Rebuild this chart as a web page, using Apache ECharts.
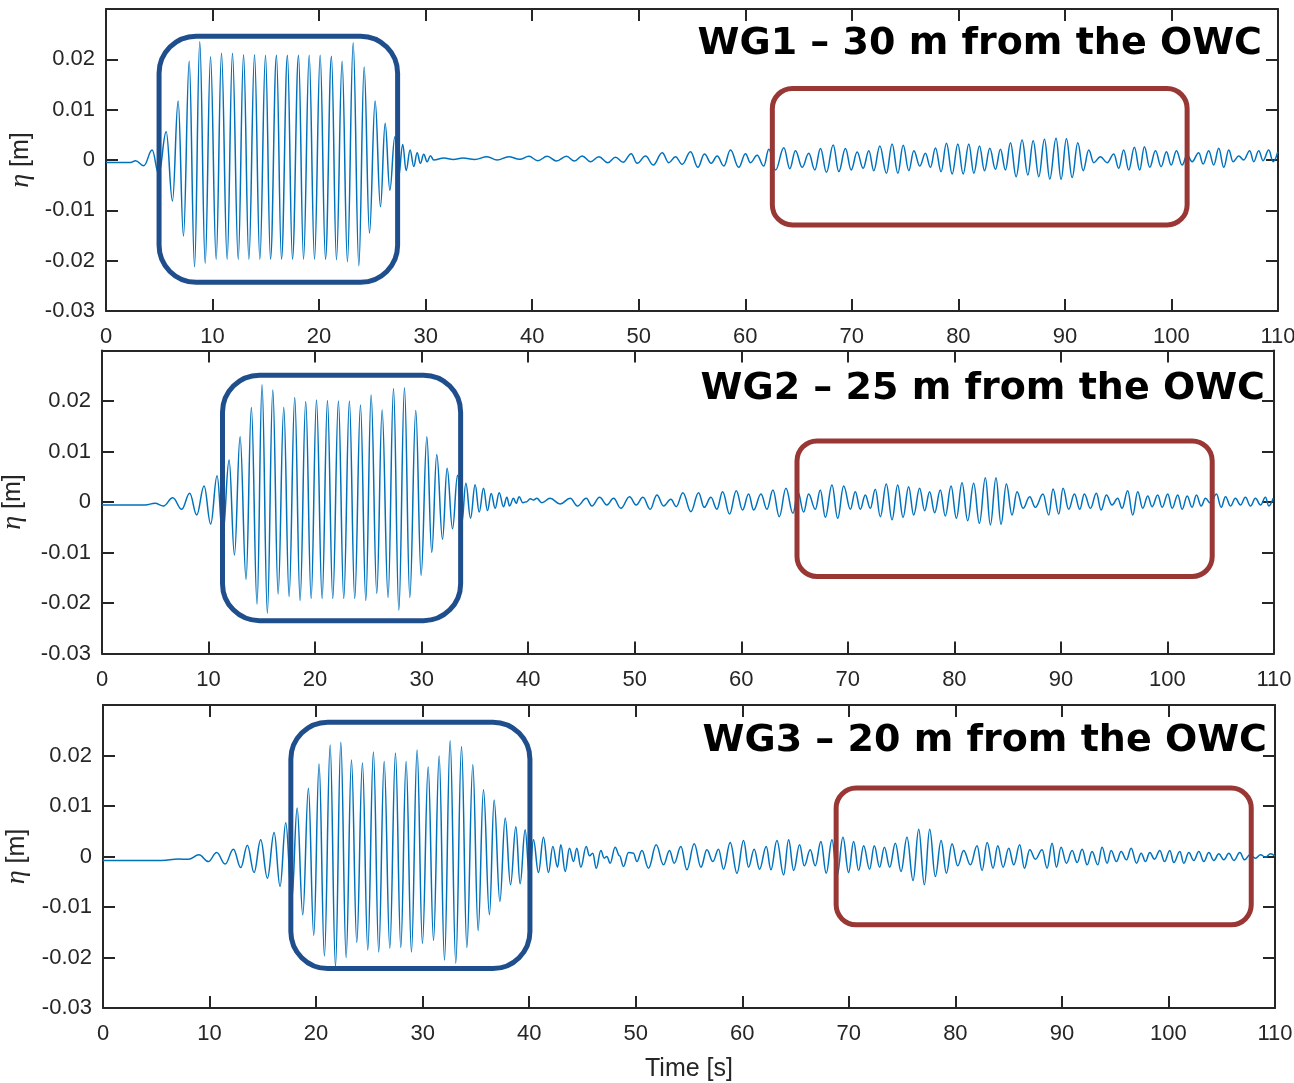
<!DOCTYPE html>
<html>
<head>
<meta charset="utf-8">
<script src="https://cdn.jsdelivr.net/npm/echarts@6/dist/echarts.min.js"></script>
<style>
  html, body { margin: 0; padding: 0; background: #ffffff; }
  #chart { width: 1294px; height: 1083px; }
</style>
</head>
<body>
<div id="chart"></div>
<script>
// Panel headings
const gaugeTitles = ['WG1 – 30 m from the OWC', 'WG2 – 25 m from the OWC', 'WG3 – 20 m from the OWC'];

// Free-surface elevation records: [time s, eta m] at successive crests / troughs
const wg1Elevation = [
  [0,-0.0005],[2.3,-0.0005],[2.77,-0.00013],[3.55,-0.00113],[4.33,0.00198],[4.95,-0.0028],[5.65,0.0056],[6.24,-0.00813],
  [6.77,0.0117],[7.27,-0.0151],[7.81,0.0196],[8.31,-0.0212],[8.8,0.0235],[9.31,-0.0205],[9.81,0.0205],[10.34,-0.0197],
  [10.84,0.0212],[11.37,-0.0197],[11.87,0.0212],[12.41,-0.0197],[12.91,0.0209],[13.41,-0.0197],[13.94,0.0209],[14.44,-0.0197],
  [14.97,0.0208],[15.44,-0.0197],[16.0,0.0208],[16.47,-0.0197],[17.03,0.0208],[17.5,-0.0197],[18.07,0.0208],[18.54,-0.0197],
  [19.07,0.0208],[19.57,-0.0197],[20.1,0.0208],[20.6,-0.0197],[21.16,0.0206],[21.63,-0.0198],[22.16,0.0196],[22.66,-0.0202],
  [23.2,0.0233],[23.73,-0.021],[24.23,0.0185],[24.73,-0.0145],[25.26,0.0117],[25.76,-0.0093],[26.2,0.0073],[26.64,-0.006],
  [27.11,0.0046],[27.45,-0.0035],[27.85,0.0031],[28.17,-0.0021],[28.54,0.002],[28.89,-0.0013],[29.2,0.00145],[29.51,-0.00066],
  [29.82,0.00112],[30.14,-0.00033],[30.45,0.00086],[30.76,0],[31.7,0.0004],[32.6,0.0001],[33.5,0.0004],[34.6,0.0001],
  [35.77,0.00066],[36.71,0],[37.8,0.00066],[38.83,0.00013],
  [39.69,0.00073],[40.53,-0.00013],[41.41,0.00073],[42.28,-0.0002],[43.22,0.00073],[43.97,-0.0002],[44.69,0.00079],[45.47,-0.00033],
  [46.26,0.00066],[47.1,-0.00053],[47.82,0.00053],[48.54,-0.00046],[49.29,0.00126],[49.85,-0.00066],[50.64,0.00079],[51.36,-0.001],
  [52.2,0.00146],[52.83,-0.00053],[53.45,0.00066],[54.08,-0.00086],[54.86,0.00165],[55.55,-0.00146],[56.17,0.00119],[56.8,-0.00066],
  [57.36,0.00079],[57.99,-0.00119],[58.61,0.00198],[59.39,-0.00146],[60.02,0.00126],[60.49,-0.00053],[61.11,0.00093],[61.74,-0.00119],
  [62.21,0.00212],[62.84,-0.00198],[63.62,0.00245],[64.18,-0.00172],[64.71,0.00185],[65.34,-0.00146],[65.96,0.00132],[66.53,-0.00198],
  [67.06,0.0023],[67.62,-0.00245],[68.25,0.00298],[68.78,-0.0023],[69.4,0.0023],[69.94,-0.00198],[70.5,0.00159],[71.06,-0.00165],
  [71.6,0.00185],[72.06,-0.00212],[72.63,0.00278],
  [73.25,-0.00265],[73.78,0.00317],[74.32,-0.00265],[74.82,0.00291],[75.35,-0.00212],[75.82,0.00185],[76.38,-0.00119],[76.91,0.00132],
  [77.38,-0.00146],[77.85,0.00238],[78.38,-0.00232],[78.88,0.00331],[79.42,-0.00278],[79.95,0.00317],[80.45,-0.00278],[80.98,0.00317],
  [81.45,-0.00265],[81.98,0.00278],[82.45,-0.00212],[82.95,0.00231],[83.48,-0.00185],[83.95,0.00212],[84.42,-0.00198],[84.89,0.00344],
  [85.42,-0.00331],[85.98,0.00397],[86.52,-0.00298],[87.02,0.00384],[87.55,-0.00331],[88.08,0.0041],[88.58,-0.00377],[89.17,0.0043],
  [89.64,-0.00384],[90.14,0.00423],[90.68,-0.0035],[91.21,0.00344],[91.71,-0.00212],[92.24,0.00198],[92.71,-0.00053],[93.33,0.00066],
  [93.96,-0.00053],[94.59,0.00119],[95.05,-0.00165],[95.52,0.00198],[95.99,-0.00198],[96.52,0.00251],[97.02,-0.00198],[97.46,0.00265],
  [97.96,-0.00146],[98.5,0.00185],[99.03,-0.00132],[99.53,0.00165],[99.97,-0.00099],[100.47,0.00185],[101.0,-0.00099],[101.47,0.00099],
  [101.94,-0.00033],[102.56,0.00146],[102.97,-0.00079],[103.5,0.00185],[103.97,-0.00099],[104.44,0.00231],[104.91,-0.00146],[105.38,0.00198],
  [105.78,-0.00033],[106.32,0.00079],[106.78,0],[107.35,0.00185],[107.72,-0.00033],[108.19,0.00185],[108.6,-0.00013],[109.13,0.00198],
  [109.54,-0.00033],[109.98,0.00165]
];

const wg2Elevation = [
  [0,-0.00059],[4.04,-0.00059],[4.98,-0.00026],[5.76,-0.00079],[6.64,0.00086],[7.48,-0.00145],[8.23,0.00172],[8.89,-0.00257],
  [9.58,0.00317],[10.2,-0.00436],[10.8,0.00521],[11.33,-0.0068],[11.93,0.0083],[12.43,-0.0105],[12.96,0.0129],[13.52,-0.0153],
  [14.02,0.0187],[14.55,-0.0202],[15.02,0.0232],[15.52,-0.022],[16.03,0.0222],[16.53,-0.0182],[17.06,0.0187],[17.56,-0.0187],
  [18.09,0.0207],[18.59,-0.0195],[19.12,0.0199],[19.63,-0.0191],[20.13,0.0202],[20.66,-0.0191],[21.16,0.0201],[21.66,-0.0191],
  [22.19,0.02],[22.69,-0.0191],[23.22,0.02],[23.72,-0.0191],[24.26,0.0192],[24.76,-0.0195],[25.26,0.0212],[25.79,-0.0181],
  [26.29,0.0182],[26.85,-0.0189],[27.36,0.0225],[27.86,-0.0214],[28.39,0.0226],[28.89,-0.0189],[29.45,0.0181],[29.95,-0.0145],
  [30.49,0.0129],[30.95,-0.01],[31.42,0.0094],[31.96,-0.0074],[32.39,0.0067],[32.9,-0.0053],[33.37,0.0053],[33.77,-0.0042],
  [34.15,0.0037],[34.59,-0.0032],[35.02,0.0034],[35.4,-0.002],[35.81,0.0027],[36.18,-0.0017],[36.53,0.0017],[36.9,-0.00125],
  [37.28,0.00185],[37.68,-0.00092],
  [38.0,0.00092],[38.25,-0.00079],[38.62,0.00073],[38.87,-0.00026],[39.15,0.00106],[39.5,-0.00013],[39.87,0.00007],[40.19,0.00066],
  [40.5,0.0004],[40.81,0.00073],[41.28,-0.00013],[42.06,0.00073],[43.0,-0.0004],[43.94,0.00073],[44.63,-0.00079],[45.45,0.00073],
  [45.98,-0.00079],[46.7,0.00092],[47.39,-0.00059],[48.01,0.00073],[48.7,-0.00125],[49.51,0.00106],[50.14,-0.00059],[50.77,0.00092],
  [51.45,-0.00145],[52.08,0.00139],[52.71,-0.00079],[53.39,0.00053],[53.9,-0.00092],[54.52,0.00185],[55.27,-0.00191],[55.99,0.00185],
  [56.52,-0.00106],[57.15,0.00092],[57.71,-0.00145],[58.25,0.00205],[58.9,-0.00238],[59.53,0.00224],[60.12,-0.00158],[60.69,0.00158],
  [61.16,-0.00158],[61.85,0.00158],[62.41,-0.00145],[62.97,0.00238],[63.57,-0.0029],[64.19,0.00271],[64.85,-0.00224],[65.32,0.002],
  [65.85,-0.002],[66.32,0.00158],[66.95,-0.00145],[67.42,0.00238],[67.89,-0.00304],[68.51,0.00337],[69.05,-0.00323],[69.61,0.00317],
  [70.24,-0.00145],[70.7,0.00205],[71.17,-0.00145],[71.64,0.00139],[72.11,-0.00125],[72.58,0.00251],
  [73.05,-0.0029],[73.61,0.00356],[74.15,-0.0035],[74.68,0.00337],[75.18,-0.00304],[75.71,0.00304],[76.18,-0.00257],[76.74,0.00271],
  [77.21,-0.00172],[77.68,0.00205],[78.15,-0.00211],[78.68,0.00238],[79.15,-0.00277],[79.69,0.00317],[80.19,-0.00323],[80.72,0.00383],
  [81.25,-0.0037],[81.81,0.0037],[82.35,-0.00422],[82.91,0.00482],[83.38,-0.00455],[83.91,0.00482],[84.38,-0.00442],[84.88,0.00356],
  [85.41,-0.00257],[85.88,0.00205],[86.45,-0.00125],[87.07,0.00106],[87.6,-0.00106],[88.32,0.00158],[88.86,-0.00257],[89.26,0.00257],
  [89.8,-0.00238],[90.2,0.00271],[90.73,-0.00145],[91.27,0.00158],[91.77,-0.00145],[92.2,0.00158],[92.77,-0.00125],[93.33,0.00172],
  [93.77,-0.00158],[94.27,0.00139],[94.8,-0.00059],[95.33,0.00073],[95.74,-0.00125],[96.27,0.00224],[96.74,-0.00257],[97.21,0.00205],
  [97.68,-0.00125],[98.15,0.00119],[98.56,-0.00092],[99.09,0.00139],[99.5,-0.00106],[100.03,0.00158],[100.44,-0.00125],[100.97,0.00139],
  [101.38,-0.00145],[101.85,0.00119],[102.31,-0.00106],[102.72,0.00139],[103.16,-0.00079],[103.57,0.00073],[104.04,-0.00026],[104.6,0.00158],
  [105.04,-0.00106],[105.45,0.00106],[105.91,-0.00079],[106.38,0.00073],[106.85,-0.00059],[107.32,0.00092],[107.79,-0.00079],[108.26,0.00073],
  [108.73,-0.00059],[109.2,0.00092],[109.51,-0.00079],[109.92,0.00073]
];

const wg3Elevation = [
  [0,-0.0008],[5.5,-0.0008],[7.07,-0.0005],[8.01,-0.00055],[9.01,0.00033],[9.89,-0.001],[10.67,0.0008],[11.46,-0.0015],
  [12.24,0.00145],[12.93,-0.0022],[13.55,0.00224],[14.18,-0.00317],[14.8,0.0033],[15.43,-0.0043],[16.06,0.00475],[16.62,-0.00594],
  [17.15,0.0067],[17.72,-0.0086],[18.22,0.0096],[18.75,-0.01155],[19.28,0.0135],[19.78,-0.0156],[20.28,0.0183],[20.78,-0.0197],
  [21.32,0.0221],[21.82,-0.0218],[22.32,0.0226],[22.82,-0.02],[23.32,0.0191],[23.82,-0.017],[24.35,0.0185],[24.85,-0.0185],
  [25.38,0.0207],[25.88,-0.0189],[26.39,0.0188],[26.92,-0.01815],[27.45,0.0205],[27.95,-0.018],[28.45,0.0188],[28.95,-0.0189],
  [29.48,0.0211],[29.98,-0.0172],[30.52,0.0177],[31.02,-0.0166],[31.55,0.0199],[32.05,-0.0205],[32.58,0.0229],[33.11,-0.0211],
  [33.65,0.0218],[34.15,-0.018],[34.71,0.01815],[35.21,-0.01465],[35.71,0.0132],[36.27,-0.01155],[36.71,0.0112],[37.25,-0.0089],
  [37.75,0.0076],[38.25,-0.0056],[38.75,0.0059],[39.15,-0.0054],[39.62,0.0053],[40.03,-0.004],
  [40.4,0.0033],[40.87,-0.00317],[41.34,0.00383],[41.81,-0.00317],[42.22,0.00198],[42.66,-0.00211],[42.97,0.00231],[43.38,-0.00297],
  [43.78,0.00165],[44.16,-0.001],[44.47,0.00165],[44.85,-0.00211],[45.35,0.00198],[45.66,0.00013],[45.97,0.00066],[46.29,-0.00231],
  [46.73,0.00119],[47.04,-0.00033],[47.29,0],[47.6,-0.00132],[48.07,0.00185],[48.48,0.00013],[48.85,-0.00198],[49.32,0.00079],
  [49.79,0.00066],[50.11,-0.00099],[50.58,0.00119],[51.2,-0.00231],[51.92,0.00231],[52.61,-0.00165],[53.17,0.00119],[53.61,-0.00132],
  [54.24,0.00198],[54.8,-0.00264],[55.49,0.00251],[56.12,-0.00211],[56.68,0.00132],[57.24,-0.00099],[57.77,0.00145],[58.24,-0.00251],
  [58.87,0.00277],[59.5,-0.0033],[60.12,0.00317],[60.59,-0.00211],[61.12,0.00145],[61.62,-0.00251],[62.25,0.00198],[62.69,-0.00264],
  [63.25,0.00317],[63.88,-0.00363],[64.35,0.0033],[64.82,-0.00277],[65.38,0.00231],[65.82,-0.00185],[66.38,0.00132],[66.85,-0.00185],
  [67.38,0.00297],[67.88,-0.0033],[68.42,0.0033],[68.9,-0.00383],[69.45,0.00383],[69.98,-0.00317],[70.45,0.00297],[70.92,-0.00277],
  [71.39,0.00211],[71.95,-0.00251],[72.39,0.00211],[72.89,-0.00211],
  [73.34,0.00185],[73.84,-0.00211],[74.37,0.00264],[74.9,-0.00297],[75.46,0.00383],[76.03,-0.00475],[76.56,0.00541],[77.09,-0.00561],
  [77.59,0.00541],[78.12,-0.00396],[78.66,0.00317],[79.16,-0.0033],[79.69,0.00251],[80.22,-0.00185],[80.78,0.00119],[81.41,-0.00165],
  [82.04,0.00211],[82.51,-0.00277],[82.98,0.00277],[83.54,-0.00231],[83.98,0.00211],[84.48,-0.00211],[85.01,0.00165],[85.48,-0.00165],
  [86.04,0.00231],[86.48,-0.00231],[86.98,0.00132],[87.51,-0.00053],[88.14,0.00132],[88.61,-0.00231],[89.08,0.00264],[89.49,-0.00211],
  [89.92,0.00185],[90.42,-0.00132],[90.96,0.00119],[91.43,-0.00119],[91.9,0.00145],[92.37,-0.00165],[92.83,0.00099],[93.37,-0.00165],
  [93.77,0.00185],[94.24,-0.00132],[94.62,0.00119],[95.12,-0.00099],[95.56,0.00099],[96.06,-0.00066],[96.5,0.00165],[97.0,-0.00132],
  [97.44,0.00066],[97.84,-0.00099],[98.25,0.00079],[98.69,-0.00053],[99.19,0.00119],[99.63,-0.00099],[100.13,0.00119],[100.5,-0.00119],
  [101.07,0.00099],[101.44,-0.00132],[101.91,0.00079],[102.38,-0.00079],[102.85,0.00099],[103.32,-0.00099],[103.79,0.00079],[104.26,-0.00079],
  [104.73,0.00053],[105.2,-0.00066],[105.67,0.00066],[106.14,-0.00079],[106.7,0.00079],[107.14,-0.00066],[107.64,0.00033],[108.17,-0.00033],
  [108.64,0.00033],[109.11,-0.00013],[109.58,0.00053],[109.96,0.00013]
];

// Highlighted wave-group windows: [start s, end s, upper m, lower m]
// first entry = incident group, second entry = reflected group
const wg1Windows = [[4.98, 27.37, 0.0246, -0.0243], [62.54, 101.47, 0.0142, -0.0129]];
const wg2Windows = [[11.31, 33.66, 0.0251, -0.0235], [65.23, 104.2, 0.0121, -0.01475]];
const wg3Windows = [[17.63, 40.07, 0.0266, -0.0222], [68.81, 107.77, 0.01354, -0.01352]];

// Axis ranges
const timeMin = 0, timeMax = 110, timeStep = 10;
const etaMin = -0.03, etaMax = 0.03, etaStep = 0.01;

const records = [wg1Elevation, wg2Elevation, wg3Elevation];
const windows = [wg1Windows, wg2Windows, wg3Windows];

// Layout of the three stacked panels
const panels = [
  { grid: { left: 106, top: 9,     width: 1172, height: 302 }, nameGap: 71, titleTop: 25,  titleRight: 32 },
  { grid: { left: 102, top: 350.5, width: 1172, height: 303 }, nameGap: 75, titleTop: 370, titleRight: 29 },
  { grid: { left: 103, top: 705,   width: 1172, height: 303 }, nameGap: 72, titleTop: 722, titleRight: 27 }
];

const INK = '#262626';
const LINE_BLUE = '#0072BD';
const INCIDENT_FRAME = '#1F4E8C';
const REFLECTED_FRAME = '#993735';
const FONT = '"Liberation Sans", Arial, Helvetica, sans-serif';

const grid = [], xAxis = [], yAxis = [], series = [], title = [];

panels.forEach(function (p, i) {
  // keep the plot boxes exactly where they are placed, even if an edge label runs to the canvas border
  grid.push(Object.assign({ containLabel: false, outerBoundsMode: 'none' }, p.grid));

  const tick = { show: true, inside: true, length: 12, lineStyle: { color: INK, width: 2 } };
  const line = { show: true, onZero: false, lineStyle: { color: INK, width: 2 } };

  // bottom (labelled) and top (ticks only) time axes
  xAxis.push({
    type: 'value', gridIndex: i, position: 'bottom', min: timeMin, max: timeMax, interval: timeStep,
    axisLine: line, axisTick: tick, splitLine: { show: false },
    axisLabel: { show: true, margin: 15, color: INK, fontSize: 22, fontFamily: FONT, showMinLabel: true, showMaxLabel: true },
    name: i === 2 ? 'Time [s]' : '', nameLocation: 'middle', nameGap: 49, nameMoveOverlap: false,
    nameTextStyle: { color: INK, fontSize: 25, fontFamily: FONT }
  });
  xAxis.push({
    type: 'value', gridIndex: i, position: 'top', min: timeMin, max: timeMax, interval: timeStep,
    axisLine: line, axisTick: tick, splitLine: { show: false }, axisLabel: { show: false }
  });

  // left (labelled) and right (ticks only) elevation axes
  yAxis.push({
    type: 'value', gridIndex: i, position: 'left', min: etaMin, max: etaMax, interval: etaStep,
    axisLine: line, axisTick: tick, splitLine: { show: false },
    axisLabel: {
      show: true, margin: 11, color: INK, fontSize: 22, fontFamily: FONT,
      formatter: function (v) { return v > 0.025 ? '' : String(+v.toFixed(2)); }
    },
    name: '{g|η} [m]', nameLocation: 'middle', nameGap: p.nameGap, nameRotate: 90, nameMoveOverlap: false,
    nameTextStyle: {
      color: INK, fontSize: 25, fontFamily: FONT,
      rich: { g: { fontStyle: 'italic', fontFamily: '"Liberation Serif", "DejaVu Serif", serif', fontSize: 28, color: INK } }
    }
  });
  yAxis.push({
    type: 'value', gridIndex: i, position: 'right', min: etaMin, max: etaMax, interval: etaStep,
    axisLine: line, axisTick: tick, splitLine: { show: false }, axisLabel: { show: false }
  });

  series.push({
    type: 'line', xAxisIndex: 2 * i, yAxisIndex: 2 * i,
    data: records[i], showSymbol: false, symbol: 'none',
    smooth: 0.4, smoothMonotone: 'x',
    lineStyle: { color: LINE_BLUE, width: 1.5 }, z: 2, silent: true
  });

  series.push({
    type: 'custom', xAxisIndex: 2 * i, yAxisIndex: 2 * i, coordinateSystem: 'cartesian2d',
    data: windows[i], encode: { x: [0, 1], y: [2, 3] }, clip: false, z: 5, silent: true,
    renderItem: function (params, api) {
      const a = api.coord([api.value(0), api.value(2)]);
      const b = api.coord([api.value(1), api.value(3)]);
      const incident = params.dataIndex === 0;
      return {
        type: 'rect',
        shape: { x: a[0], y: a[1], width: b[0] - a[0], height: b[1] - a[1], r: incident ? 37 : 20 },
        style: { fill: 'none', stroke: incident ? INCIDENT_FRAME : REFLECTED_FRAME, lineWidth: 5 }
      };
    }
  });

  title.push({
    text: gaugeTitles[i], right: p.titleRight, top: p.titleTop, padding: 0,
    textStyle: { fontFamily: '"DejaVu Sans", Verdana, sans-serif', fontWeight: 'bold', fontSize: 38, color: '#000000' }
  });
});

const chart = echarts.init(document.getElementById('chart'), null, { renderer: 'canvas', width: 1294, height: 1083 });
chart.setOption({
  backgroundColor: '#ffffff',
  animation: false,
  title: title,
  grid: grid,
  xAxis: xAxis,
  yAxis: yAxis,
  series: series
});
</script>
</body>
</html>
